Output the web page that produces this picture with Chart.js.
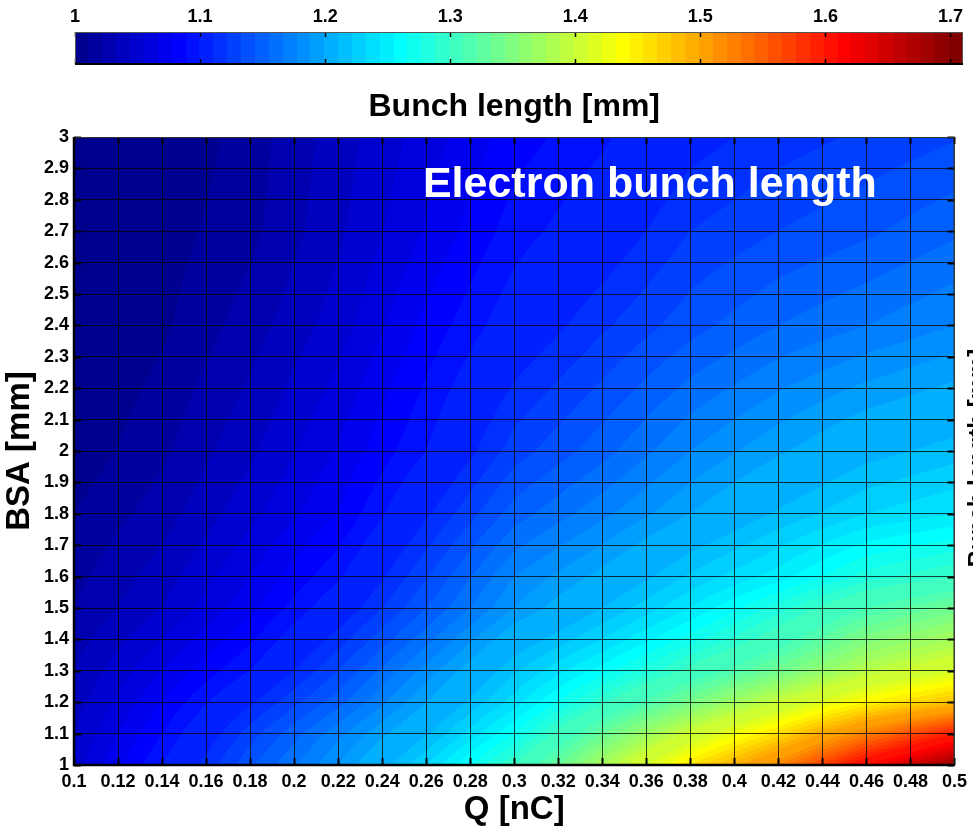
<!DOCTYPE html>
<html>
<head>
<meta charset="utf-8">
<title>Electron bunch length</title>
<script src="https://cdn.jsdelivr.net/npm/chart.js@4.4.1/dist/chart.umd.min.js"></script>
<style>
  body { margin: 0; background: #fff; }
  #wrap { position: relative; width: 973px; height: 830px; }
  #wrap canvas { position: absolute; left: 0; top: 0; }
</style>
</head>
<body>
<div id="wrap">
  <canvas id="main" width="973" height="830"></canvas>
  <canvas id="cbar" width="973" height="80"></canvas>
</div>
<script>
// grid nodes
const chargeQ = [0.10, 0.14, 0.18, 0.22, 0.26, 0.30, 0.34, 0.38, 0.42, 0.46, 0.50]; // nC
const bsa = [1.0, 1.1, 1.2, 1.3, 1.4, 1.5, 1.6, 1.8, 2.0, 2.4, 2.7, 3.0]; // mm

// bunch length [mm], one row per BSA value, columns follow chargeQ
const bunchLength = [
  [1.055, 1.100, 1.148, 1.190, 1.240, 1.300, 1.380, 1.460, 1.530, 1.620, 1.690],
  [1.050, 1.090, 1.135, 1.177, 1.218, 1.270, 1.340, 1.405, 1.465, 1.535, 1.600],
  [1.045, 1.080, 1.118, 1.156, 1.200, 1.245, 1.297, 1.350, 1.400, 1.450, 1.485],
  [1.040, 1.070, 1.100, 1.140, 1.184, 1.228, 1.265, 1.305, 1.345, 1.390, 1.420],
  [1.035, 1.060, 1.088, 1.125, 1.166, 1.210, 1.240, 1.275, 1.310, 1.355, 1.380],
  [1.030, 1.050, 1.077, 1.110, 1.150, 1.190, 1.220, 1.250, 1.285, 1.320, 1.345],
  [1.027, 1.045, 1.070, 1.098, 1.139, 1.180, 1.204, 1.232, 1.255, 1.285, 1.300],
  [1.020, 1.035, 1.057, 1.080, 1.118, 1.155, 1.177, 1.200, 1.222, 1.240, 1.250],
  [1.013, 1.028, 1.048, 1.071, 1.100, 1.135, 1.156, 1.180, 1.198, 1.215, 1.225],
  [1.006, 1.018, 1.035, 1.055, 1.083, 1.108, 1.128, 1.146, 1.160, 1.170, 1.180],
  [1.003, 1.015, 1.027, 1.048, 1.071, 1.095, 1.110, 1.130, 1.140, 1.148, 1.158],
  [1.000, 1.010, 1.025, 1.045, 1.065, 1.085, 1.098, 1.115, 1.125, 1.132, 1.139]
];

const colorLimits = [1, 1.71];
const contourStep = 0.01;
const colorbarTicks = [1, 1.1, 1.2, 1.3, 1.4, 1.5, 1.6, 1.7];

const FONT = 'Arial, "Liberation Sans", Helvetica, sans-serif';
Chart.defaults.font.family = FONT;
Chart.defaults.color = '#000';

// matlab style jet
function jet(t) {
  const c = v => Math.max(0, Math.min(1, v));
  return [
    Math.round(c(1.5 - Math.abs(4 * t - 3)) * 255),
    Math.round(c(1.5 - Math.abs(4 * t - 2)) * 255),
    Math.round(c(1.5 - Math.abs(4 * t - 1)) * 255)
  ];
}
function mapColor(v) {
  const t = (v - colorLimits[0]) / (colorLimits[1] - colorLimits[0]);
  const idx = Math.max(0, Math.min(63, Math.floor(t * 64)));
  return jet((idx + 1) / 64);
}

function cellIndex(arr, v) {
  for (let i = 0; i < arr.length - 2; i++) {
    if (v < arr[i + 1]) return i;
  }
  return arr.length - 2;
}
function valueAt(q, b) {
  const i = cellIndex(chargeQ, q), j = cellIndex(bsa, b);
  let fx = (q - chargeQ[i]) / (chargeQ[i + 1] - chargeQ[i]);
  let fy = (b - bsa[j]) / (bsa[j + 1] - bsa[j]);
  fx = Math.max(0, Math.min(1, fx));
  fy = Math.max(0, Math.min(1, fy));
  const r0 = bunchLength[j], r1 = bunchLength[j + 1];
  return r0[i] * (1 - fx) * (1 - fy) + r0[i + 1] * fx * (1 - fy) +
         r1[i] * (1 - fx) * fy + r1[i + 1] * fx * fy;
}

// plain labels: 0.1, 0.12, 1, 1.1 ...
const plainLabel = v => String(Number(v.toFixed(3)));

// filled contour, drawn under the grid
const contourFill = {
  id: 'contourFill',
  beforeDatasetsDraw(chart) {
    const {ctx, chartArea: a, scales: {x, y}} = chart;
    const left = Math.round(a.left), top = Math.round(a.top);
    const w = Math.round(a.right) - left, h = Math.round(a.bottom) - top;
    const img = ctx.createImageData(w, h);
    const qs = [];
    for (let px = 0; px < w; px++) qs.push(x.getValueForPixel(left + px + 0.5));
    for (let py = 0; py < h; py++) {
      const b = y.getValueForPixel(top + py + 0.5);
      for (let px = 0; px < w; px++) {
        const v = valueAt(qs[px], b);
        const level = colorLimits[0] + Math.floor((v - colorLimits[0]) / contourStep + 1e-9) * contourStep;
        const c = mapColor(level);
        const k = (py * w + px) * 4;
        img.data[k] = c[0];
        img.data[k + 1] = c[1];
        img.data[k + 2] = c[2];
        img.data[k + 3] = 255;
      }
    }
    ctx.putImageData(img, left, top);
  }
};

// axes box, inward ticks and the texts on the plot
const frame = {
  id: 'frame',
  afterDraw(chart) {
    const {ctx, chartArea: a, scales: {x, y}} = chart;
    ctx.save();
    ctx.strokeStyle = '#000';
    ctx.lineWidth = 2;
    x.ticks.forEach(t => {
      const px = Math.round(x.getPixelForValue(t.value)) + 0.5;
      ctx.beginPath();
      ctx.moveTo(px, a.bottom); ctx.lineTo(px, a.bottom - 7);
      ctx.moveTo(px, a.top); ctx.lineTo(px, a.top + 7);
      ctx.stroke();
    });
    y.ticks.forEach(t => {
      const py = Math.round(y.getPixelForValue(t.value)) + 0.5;
      ctx.beginPath();
      ctx.moveTo(a.left, py); ctx.lineTo(a.left + 7, py);
      ctx.moveTo(a.right, py); ctx.lineTo(a.right - 7, py);
      ctx.stroke();
    });
    ctx.lineWidth = 1;
    ctx.strokeStyle = '#333';
    ctx.beginPath();
    ctx.moveTo(a.left, a.top + 0.5); ctx.lineTo(a.right, a.top + 0.5);
    ctx.moveTo(a.right - 0.5, a.top); ctx.lineTo(a.right - 0.5, a.bottom);
    ctx.stroke();
    ctx.lineWidth = 2.5;
    ctx.strokeStyle = '#000';
    ctx.beginPath();
    ctx.moveTo(a.left, a.top); ctx.lineTo(a.left, a.bottom); ctx.lineTo(a.right, a.bottom);
    ctx.stroke();

    ctx.fillStyle = '#fff';
    ctx.font = 'bold 43px ' + FONT;
    ctx.textAlign = 'left';
    ctx.textBaseline = 'alphabetic';
    ctx.fillText('Electron bunch length', x.getPixelForValue(0.2585), y.getPixelForValue(2.81));

    // label of a neighbouring axis, cut by the right edge
    ctx.fillStyle = '#000';
    ctx.font = 'bold 24px ' + FONT;
    ctx.translate(966, 458);
    ctx.rotate(-Math.PI / 2);
    ctx.textAlign = 'center';
    ctx.textBaseline = 'top';
    ctx.fillText('Bunch length [mm]', 0, 0);
    ctx.restore();
  }
};

const nodes = [];
bsa.forEach(b => chargeQ.forEach(q => nodes.push({x: q, y: b})));

const tickFont = {size: 18, weight: 'bold'};
const axisTitleFont = {size: 33, weight: 'bold'};
const gridLines = {color: 'rgba(0,0,0,0.75)', lineWidth: 1, drawTicks: false, z: 1};

new Chart(document.getElementById('main'), {
  type: 'scatter',
  data: {
    datasets: [{
      label: 'Bunch length [mm]',
      data: nodes,
      pointRadius: 0,
      pointHoverRadius: 0
    }]
  },
  options: {
    responsive: false,
    animation: false,
    devicePixelRatio: 1,
    events: [],
    layout: {padding: {top: 88, right: 16, left: 0, bottom: 0}},
    plugins: {
      legend: {display: false},
      tooltip: {enabled: false},
      title: {
        display: true,
        text: 'Bunch length [mm]',
        fullSize: false,
        font: {size: 32, weight: 'bold'},
        color: '#000',
        padding: {top: 0, bottom: 10.6}
      }
    },
    scales: {
      x: {
        type: 'linear',
        min: 0.1,
        max: 0.5,
        ticks: {stepSize: 0.02, maxTicksLimit: 100, autoSkip: false, maxRotation: 0, padding: 6, font: tickFont, color: '#000', callback: plainLabel},
        grid: gridLines,
        border: {display: false},
        title: {display: true, text: 'Q [nC]', font: axisTitleFont, color: '#000', padding: 0},
        afterFit(scale) { scale.height = 65; }
      },
      y: {
        type: 'linear',
        min: 1,
        max: 3,
        ticks: {stepSize: 0.1, maxTicksLimit: 100, autoSkip: false, padding: 5, font: tickFont, color: '#000', callback: plainLabel},
        grid: gridLines,
        border: {display: false},
        title: {display: true, text: 'BSA [mm]', font: axisTitleFont, color: '#000', padding: 0},
        afterFit(scale) { scale.width = 74; }
      }
    }
  },
  plugins: [contourFill, frame]
});

// colour bar on top
const colorbarFill = {
  id: 'colorbarFill',
  afterDraw(chart) {
    const {ctx, chartArea: a, scales: {x}} = chart;
    const span = colorLimits[1] - colorLimits[0];
    ctx.save();
    for (let k = 0; k < 64; k++) {
      const x0 = x.getPixelForValue(colorLimits[0] + span * k / 64);
      const x1 = x.getPixelForValue(colorLimits[0] + span * (k + 1) / 64);
      const c = jet((k + 1) / 64);
      ctx.fillStyle = `rgb(${c[0]},${c[1]},${c[2]})`;
      ctx.fillRect(Math.floor(x0), a.top, Math.ceil(x1) - Math.floor(x0), a.bottom - a.top);
    }
    ctx.strokeStyle = '#000';
    ctx.lineWidth = 1.5;
    colorbarTicks.forEach(v => {
      const px = Math.round(x.getPixelForValue(v)) + 0.5;
      ctx.beginPath();
      ctx.moveTo(px, a.top); ctx.lineTo(px, a.top + 5);
      ctx.moveTo(px, a.bottom); ctx.lineTo(px, a.bottom - 5);
      ctx.stroke();
    });
    ctx.lineWidth = 1;
    ctx.strokeStyle = '#555';
    ctx.strokeRect(a.left + 0.5, a.top + 0.5, a.right - a.left - 1, a.bottom - a.top - 1);
    ctx.lineWidth = 2;
    ctx.strokeStyle = '#000';
    ctx.beginPath();
    ctx.moveTo(a.left, a.bottom); ctx.lineTo(a.right, a.bottom);
    ctx.stroke();
    ctx.restore();
  }
};

new Chart(document.getElementById('cbar'), {
  type: 'scatter',
  data: {datasets: []},
  options: {
    responsive: false,
    animation: false,
    devicePixelRatio: 1,
    events: [],
    layout: {padding: {left: 75, right: 10, top: 6, bottom: 16}},
    plugins: {legend: {display: false}, tooltip: {enabled: false}},
    scales: {
      x: {
        type: 'linear',
        position: 'top',
        min: colorLimits[0],
        max: colorLimits[1],
        ticks: {stepSize: 0.1, includeBounds: false, autoSkip: false, maxRotation: 0, padding: 4, font: tickFont, color: '#000', callback: plainLabel},
        grid: {display: false, drawTicks: false},
        border: {display: false},
        afterFit(scale) { scale.height = 26; }
      },
      y: {display: false, min: 0, max: 1}
    }
  },
  plugins: [colorbarFill]
});
</script>
</body>
</html>
